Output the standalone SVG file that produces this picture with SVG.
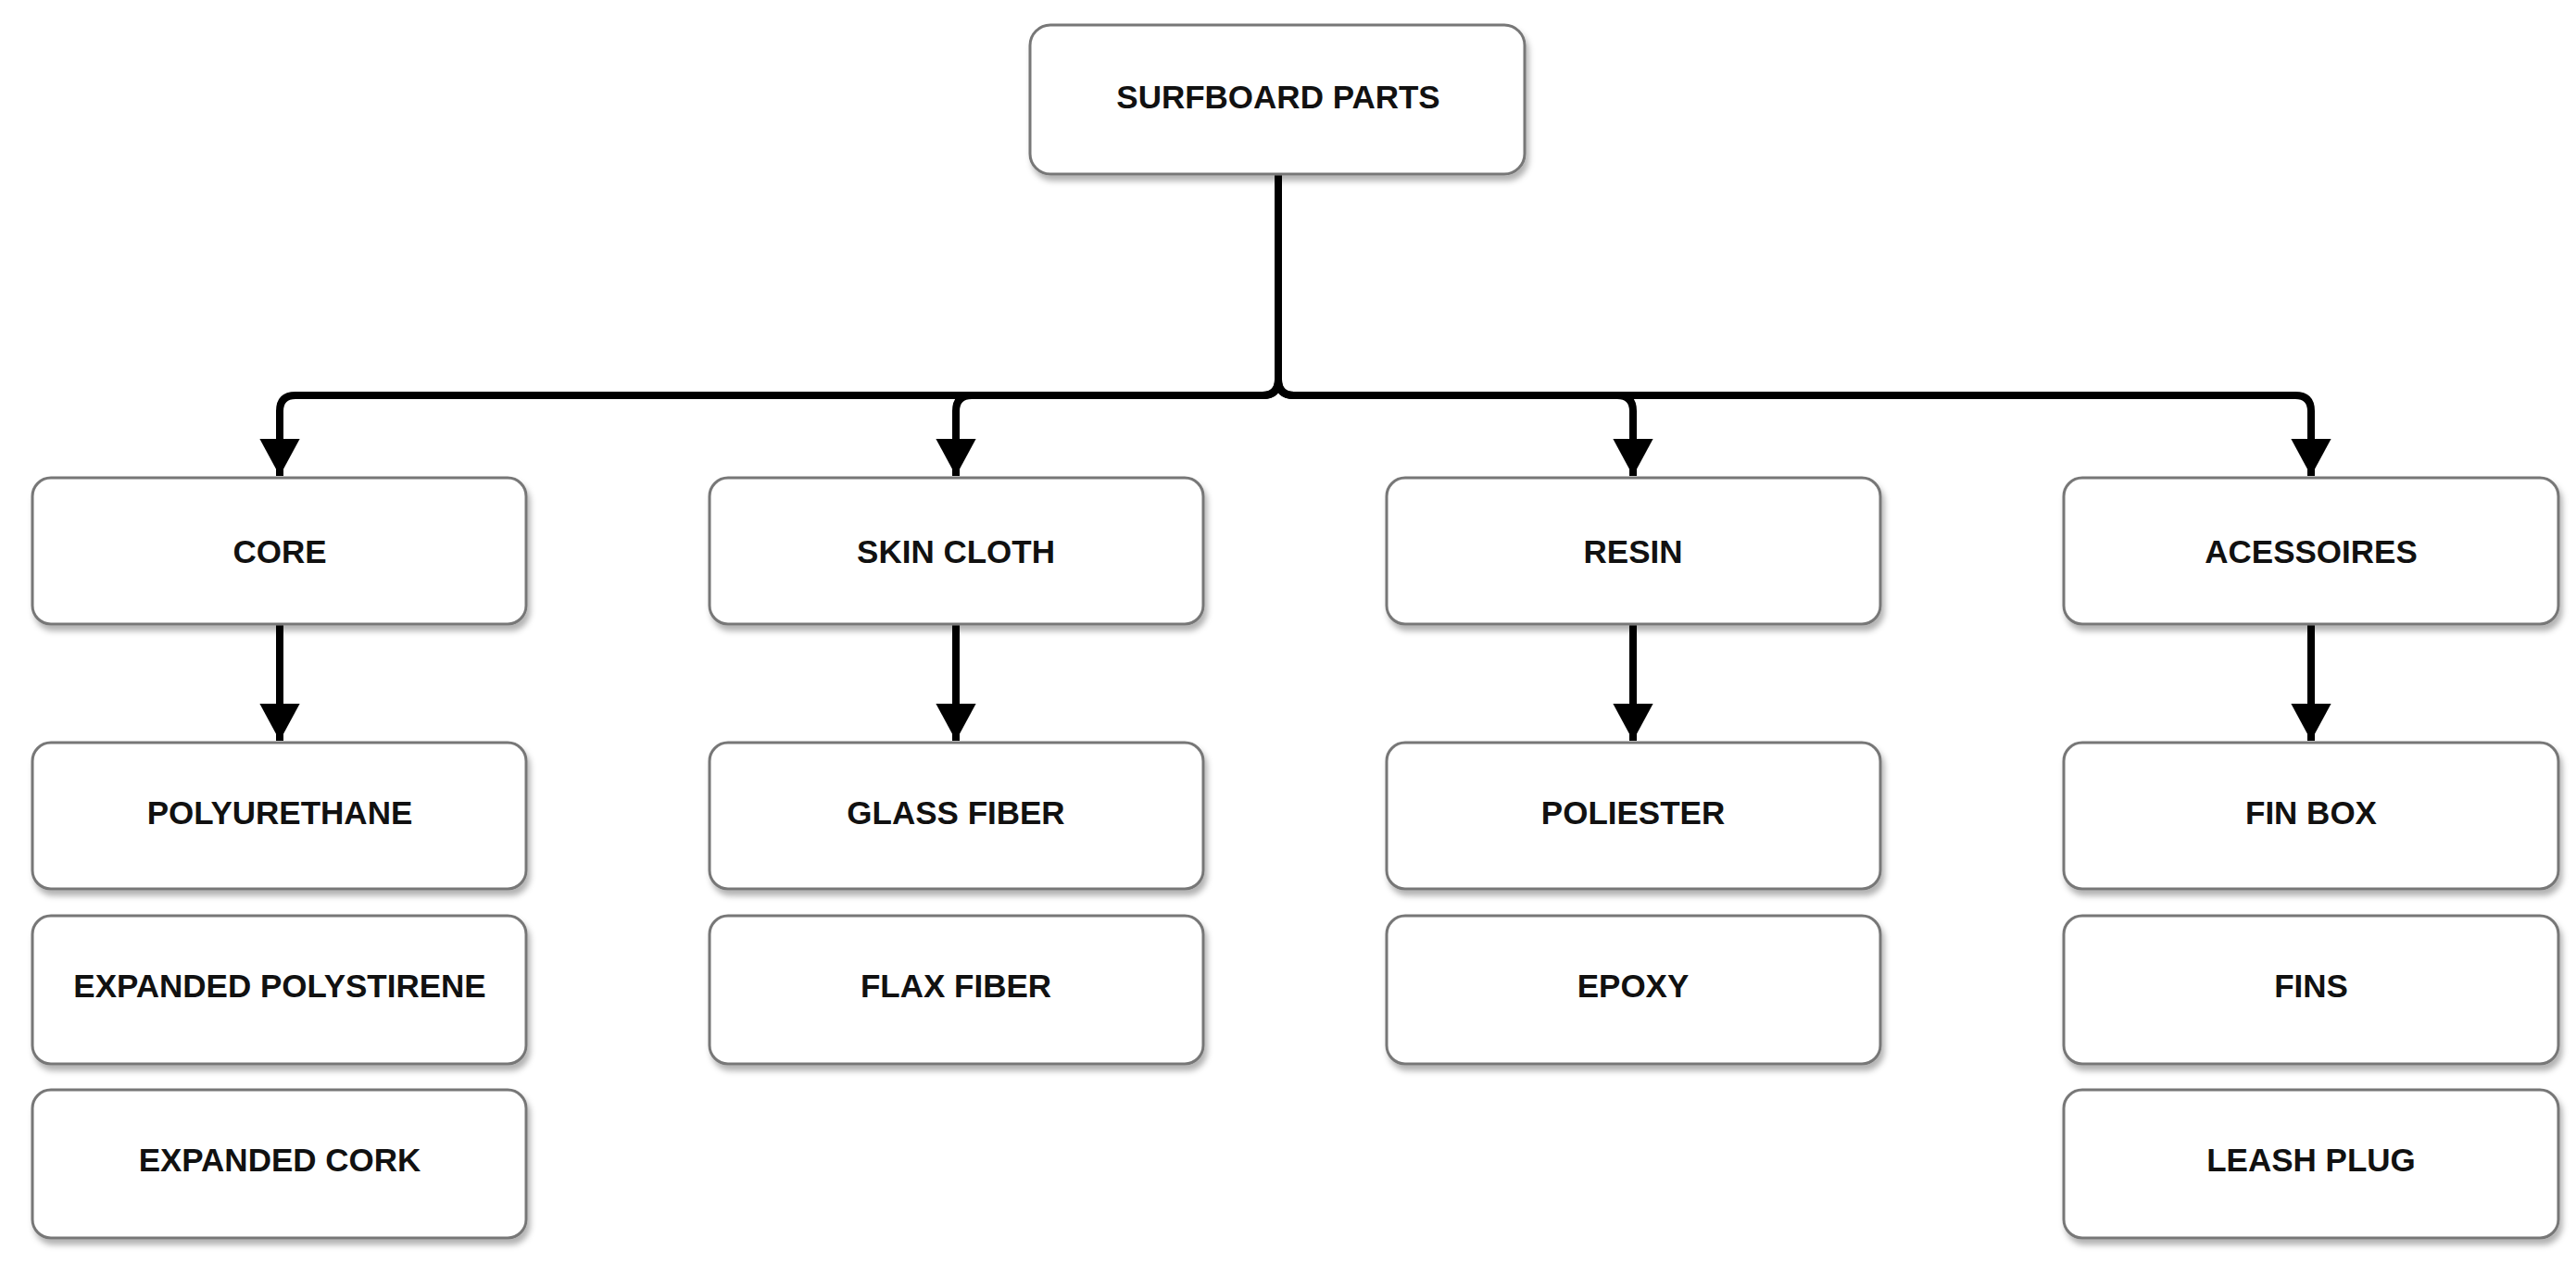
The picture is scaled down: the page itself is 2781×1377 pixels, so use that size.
<svg xmlns="http://www.w3.org/2000/svg" width="2781" height="1377" viewBox="0 0 2781 1377">
<defs>
<filter id="sh" x="-5%" y="-10%" width="115%" height="130%"><feDropShadow dx="3" dy="6" stdDeviation="3" flood-color="#000" flood-opacity="0.3"/></filter>
<marker id="ah" markerWidth="6" markerHeight="6" refX="5" refY="3" orient="auto" markerUnits="strokeWidth"><path d="M0,0.3 L5,3 L0,5.7 Z" fill="#000"/></marker>
</defs>
<style>
.b{fill:#fff;stroke:#777;stroke-width:3;filter:url(#sh)}
.t{font-family:"Liberation Sans",Arial,sans-serif;font-weight:bold;font-size:35px;fill:#111;text-anchor:middle;dominant-baseline:central}
.c{fill:none;stroke:#000;stroke-width:8;marker-end:url(#ah)}
</style>
<rect width="2781" height="1377" fill="#fff"/>
<g id="connectors">
<path class="c" d="M1380,188 V410 Q1380,427 1363,427 H319 Q302,427 302,444 V514"/>
<path class="c" d="M1380,188 V410 Q1380,427 1363,427 H1049 Q1032,427 1032,444 V514"/>
<path class="c" d="M1380,188 V410 Q1380,427 1397,427 H1746 Q1763,427 1763,444 V514"/>
<path class="c" d="M1380,188 V410 Q1380,427 1397,427 H2478 Q2495,427 2495,444 V514"/>
<path class="c" d="M302,674 V800"/>
<path class="c" d="M1032,674 V800"/>
<path class="c" d="M1763,674 V800"/>
<path class="c" d="M2495,674 V800"/>
</g>
<g id="root"><rect class="b" x="1112" y="27" width="534" height="161" rx="22"/><text class="t" x="1380" y="104">SURFBOARD PARTS</text></g>
<g id="core"><rect class="b" x="35" y="516" width="533" height="158" rx="20"/><text class="t" x="302" y="595">CORE</text></g>
<g id="skin"><rect class="b" x="766" y="516" width="533" height="158" rx="20"/><text class="t" x="1032" y="595">SKIN CLOTH</text></g>
<g id="resin"><rect class="b" x="1497" y="516" width="533" height="158" rx="20"/><text class="t" x="1763" y="595">RESIN</text></g>
<g id="acc"><rect class="b" x="2228" y="516" width="534" height="158" rx="20"/><text class="t" x="2495" y="595">ACESSOIRES</text></g>
<g id="pu"><rect class="b" x="35" y="802" width="533" height="158" rx="20"/><text class="t" x="302" y="877">POLYURETHANE</text></g>
<g id="eps"><rect class="b" x="35" y="989" width="533" height="160" rx="20"/><text class="t" x="302" y="1064">EXPANDED POLYSTIRENE</text></g>
<g id="cork"><rect class="b" x="35" y="1177" width="533" height="160" rx="20"/><text class="t" x="302" y="1252">EXPANDED CORK</text></g>
<g id="glass"><rect class="b" x="766" y="802" width="533" height="158" rx="20"/><text class="t" x="1032" y="877">GLASS FIBER</text></g>
<g id="flax"><rect class="b" x="766" y="989" width="533" height="160" rx="20"/><text class="t" x="1032" y="1064">FLAX FIBER</text></g>
<g id="poli"><rect class="b" x="1497" y="802" width="533" height="158" rx="20"/><text class="t" x="1763" y="877">POLIESTER</text></g>
<g id="epoxy"><rect class="b" x="1497" y="989" width="533" height="160" rx="20"/><text class="t" x="1763" y="1064">EPOXY</text></g>
<g id="finbox"><rect class="b" x="2228" y="802" width="534" height="158" rx="20"/><text class="t" x="2495" y="877">FIN BOX</text></g>
<g id="fins"><rect class="b" x="2228" y="989" width="534" height="160" rx="20"/><text class="t" x="2495" y="1064">FINS</text></g>
<g id="leash"><rect class="b" x="2228" y="1177" width="534" height="160" rx="20"/><text class="t" x="2495" y="1252">LEASH PLUG</text></g>
</svg>
